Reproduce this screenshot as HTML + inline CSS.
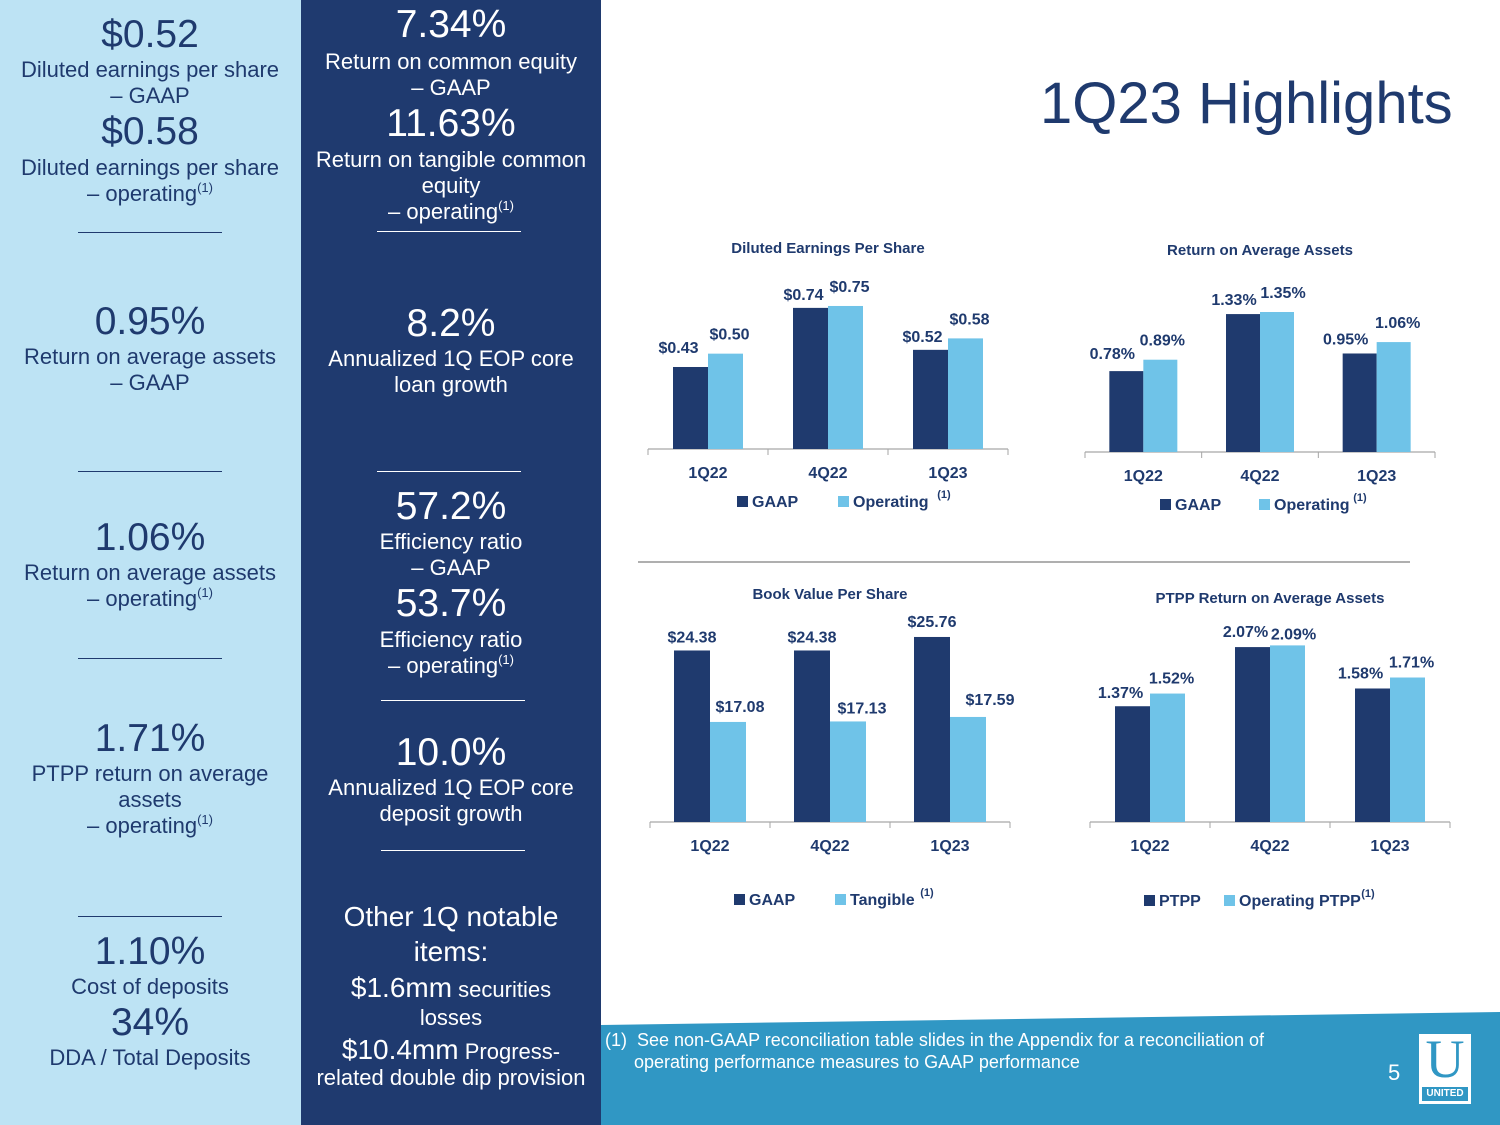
<!DOCTYPE html>
<html><head><meta charset="utf-8"><style>
body{margin:0;width:1500px;height:1125px;position:relative;overflow:hidden;background:#fff;font-family:"Liberation Sans",Arial,sans-serif}
.p{position:absolute;top:0;height:1125px}
.t{position:absolute;left:0;width:300px;text-align:center;white-space:nowrap;font-size:22px;height:30px;line-height:30px}
.b{font-size:39px;height:46px;line-height:46px}
.hr{position:absolute;height:1px}
sup{font-size:13px;vertical-align:9px;line-height:0}
#left .t{color:#1f3a6e}#left .hr{background:#1f3a6e}
#mid .t{color:#fff}#mid .hr{background:#fff}
svg text{font-family:"Liberation Sans",Arial,sans-serif;font-weight:bold;fill:#1f3a6e}
</style></head><body>
<div id="left" class="p" style="left:0;width:301px;background:#bde3f4">
<div class="t b" style="top:12px">$0.52</div>
<div class="t" style="top:55px">Diluted earnings per share</div>
<div class="t" style="top:81px">– GAAP</div>
<div class="t b" style="top:109px">$0.58</div>
<div class="t" style="top:153px">Diluted earnings per share</div>
<div class="t" style="top:179px">– operating<sup>(1)</sup></div>
<div class="hr" style="left:78px;width:144px;top:232px"></div>
<div class="t b" style="top:299px">0.95%</div>
<div class="t" style="top:342px">Return on average assets</div>
<div class="t" style="top:368px">– GAAP</div>
<div class="hr" style="left:78px;width:144px;top:471px"></div>
<div class="t b" style="top:515px">1.06%</div>
<div class="t" style="top:558px">Return on average assets</div>
<div class="t" style="top:584px">– operating<sup>(1)</sup></div>
<div class="hr" style="left:78px;width:144px;top:658px"></div>
<div class="t b" style="top:716px">1.71%</div>
<div class="t" style="top:759px">PTPP return on average</div>
<div class="t" style="top:785px">assets</div>
<div class="t" style="top:811px">– operating<sup>(1)</sup></div>
<div class="hr" style="left:78px;width:144px;top:916px"></div>
<div class="t b" style="top:929px">1.10%</div>
<div class="t" style="top:972px">Cost of deposits</div>
<div class="t b" style="top:1000px">34%</div>
<div class="t" style="top:1043px">DDA / Total Deposits</div>
</div>
<div id="mid" class="p" style="left:301px;width:300px;background:#1f3a6f">
<div class="t b" style="top:2px">7.34%</div>
<div class="t" style="top:47px">Return on common equity</div>
<div class="t" style="top:73px">– GAAP</div>
<div class="t b" style="top:101px">11.63%</div>
<div class="t" style="top:145px">Return on tangible common</div>
<div class="t" style="top:171px">equity</div>
<div class="t" style="top:197px">– operating<sup>(1)</sup></div>
<div class="hr" style="left:76px;width:144px;top:231px"></div>
<div class="t b" style="top:301px">8.2%</div>
<div class="t" style="top:344px">Annualized 1Q EOP core</div>
<div class="t" style="top:370px">loan growth</div>
<div class="hr" style="left:76px;width:144px;top:471px"></div>
<div class="t b" style="top:484px">57.2%</div>
<div class="t" style="top:527px">Efficiency ratio</div>
<div class="t" style="top:553px">– GAAP</div>
<div class="t b" style="top:581px">53.7%</div>
<div class="t" style="top:625px">Efficiency ratio</div>
<div class="t" style="top:651px">– operating<sup>(1)</sup></div>
<div class="hr" style="left:80px;width:144px;top:700px"></div>
<div class="t b" style="top:730px">10.0%</div>
<div class="t" style="top:773px">Annualized 1Q EOP core</div>
<div class="t" style="top:799px">deposit growth</div>
<div class="hr" style="left:80px;width:144px;top:850px"></div>
<div class="t" style="top:900px;font-size:28px;height:34px;line-height:34px">Other 1Q notable</div>
<div class="t" style="top:935px;font-size:28px;height:34px;line-height:34px">items:</div>
<div class="t" style="top:971px;height:34px;line-height:34px"><span style="font-size:28px">$1.6mm</span> securities</div>
<div class="t" style="top:1003px">losses</div>
<div class="t" style="top:1033px;height:34px;line-height:34px"><span style="font-size:28px">$10.4mm</span> Progress-</div>
<div class="t" style="top:1063px">related double dip provision</div>
</div>
<div style="position:absolute;left:1040px;top:70px;font-size:58px;color:#1f3a6e;white-space:nowrap">1Q23 Highlights</div>
<svg id="charts" style="position:absolute;left:0;top:0" width="1500" height="1125">
<polygon points="601,1025 1500,1012 1500,1125 601,1125" fill="#3097c4"/>
<line x1="638" y1="562" x2="1410" y2="562" stroke="#7f7f7f" stroke-width="1.3"/>
</svg>
<div style="position:absolute;left:605px;top:1029px;color:#fff;font-size:18px;line-height:22px;white-space:nowrap">(1)&nbsp; See non-GAAP reconciliation table slides in the Appendix for a reconciliation of<br><span style="padding-left:29px">operating performance measures to GAAP performance</span></div>
<div style="position:absolute;left:1388px;top:1060px;color:#fff;font-size:22px">5</div>
<div style="position:absolute;left:1419px;top:1034px;width:52px;height:70px;background:#fff">
<div style="position:absolute;left:0;top:-4px;width:52px;text-align:center;font-family:'Liberation Serif',serif;font-size:54px;color:#3097c4;line-height:58px">U</div>
<div style="position:absolute;left:3px;top:53px;width:46px;height:14px;background:#3097c4;color:#fff;font-size:10px;font-weight:bold;text-align:center;line-height:14px">UNITED</div>
</div>
<script>
const cats=["1Q22","4Q22","1Q23"];
const epsGaap=[0.43,0.74,0.52];
const epsOp=[0.50,0.75,0.58];
const roaGaap=[0.78,1.33,0.95];
const roaOp=[0.89,1.35,1.06];
const bvGaap=[24.38,24.38,25.76];
const bvTang=[17.08,17.13,17.59];
const ptppGaap=[1.37,2.07,1.58];
const ptppOp=[1.52,2.09,1.71];
const epsLabels1=["$0.43","$0.74","$0.52"],epsLabels2=["$0.50","$0.75","$0.58"];
const roaLabels1=["0.78%","1.33%","0.95%"],roaLabels2=["0.89%","1.35%","1.06%"];
const bvLabels1=["$24.38","$24.38","$25.76"],bvLabels2=["$17.08","$17.13","$17.59"];
const ptLabels1=["1.37%","2.07%","1.58%"],ptLabels2=["1.52%","2.09%","1.71%"];
const NS="http://www.w3.org/2000/svg",svg=document.getElementById("charts");
function mk(tag,attrs,name){const e=document.createElementNS(NS,tag);for(const k in attrs)e.setAttribute(k,attrs[k]);


svg.appendChild(e);return e;}
function txt(x,y,s,size,name,anchor){const e=mk("text",{x:x,y:y,"font-size":size,"text-anchor":anchor||"middle"},name);e.textContent=s;return e;}
function chart(o){
 const step=(o.x1-o.x0)/3;
 const ys=v=>o.base-o.scale*(v-o.min);
 txt((o.x0+o.x1)/2,o.titleY,o.title,15,"chart-title");
 mk("line",{x1:o.x0,y1:o.base,x2:o.x1,y2:o.base,stroke:"#a6a6a6","stroke-width":1.3},"x-axis");
 for(let i=0;i<=3;i++)mk("line",{x1:o.x0+i*step,y1:o.base,x2:o.x0+i*step,y2:o.base+6,stroke:"#a6a6a6"},"x-tick");
 cats.forEach((c,i)=>{
  const cx=o.x0+step*(i+0.5);
  const y1=ys(o.a[i]),y2=ys(o.b[i]);
  mk("rect",{x:cx-o.w,y:y1,width:o.w,height:o.base-y1,fill:"#1f3a6e"},"bar-"+o.key+"-a-"+c);
  mk("rect",{x:cx,y:y2,width:o.w,height:o.base-y2,fill:"#6fc3e8"},"bar-"+o.key+"-b-"+c);
  txt(cx-o.w/2+o.la[i][0],y1-o.la[i][1],o.l1[i],16,"value-label");
  txt(cx+o.w/2+o.lb[i][0],y2-o.lb[i][1],o.l2[i],16,"value-label");
  txt(cx,o.base+29,c,16,"x-tick-label");
 });
 const ly=o.legY;
 mk("rect",{x:o.lx1,y:ly-11,width:11,height:11,fill:"#1f3a6e"},"legend-swatch");
 txt(o.lx1+15,ly,o.n1,16,"legend-entry","start");
 mk("rect",{x:o.lx2,y:ly-11,width:11,height:11,fill:"#6fc3e8"},"legend-swatch");
 txt(o.lx2+15,ly,o.n2,16,"legend-entry","start");
 txt(o.supX,ly-9,"(1)",11,"legend-footnote-marker");
}
chart({key:"eps",title:"Diluted Earnings Per Share",titleY:253,x0:648,x1:1008,base:449,scale:190.7,min:0,w:35,a:epsGaap,b:epsOp,l1:epsLabels1,l2:epsLabels2,la:[[-12,14],[-7,8],[-8,8]],lb:[[4,14],[4,14],[4,14]],legY:507,lx1:737,n1:"GAAP",lx2:838,n2:"Operating",supX:944});
chart({key:"roa",title:"Return on Average Assets",titleY:255,x0:1085,x1:1435,base:452,scale:103.7,min:0,w:34,a:roaGaap,b:roaOp,l1:roaLabels1,l2:roaLabels2,la:[[-14,12],[-9,9],[-14,9]],lb:[[2,14],[6,14],[4,14]],legY:510,lx1:1160,n1:"GAAP",lx2:1259,n2:"Operating",supX:1360});
chart({key:"bv",title:"Book Value Per Share",titleY:599,x0:650,x1:1010,base:822,scale:9.79,min:6.86,w:36,a:bvGaap,b:bvTang,l1:bvLabels1,l2:bvLabels2,la:[[0,8],[0,8],[0,10]],lb:[[12,10],[14,8],[22,12]],legY:905,lx1:734,n1:"GAAP",lx2:835,n2:"Tangible",supX:927});
chart({key:"ptpp",title:"PTPP Return on Average Assets",titleY:603,x0:1090,x1:1450,base:822,scale:84.5,min:0,w:35,a:ptppGaap,b:ptppOp,l1:ptLabels1,l2:ptLabels2,la:[[-12,8],[-7,10],[-12,10]],lb:[[4,10],[6,6],[4,10]],legY:906,lx1:1144,n1:"PTPP",lx2:1224,n2:"Operating PTPP",supX:1368});
</script>
</body></html>
